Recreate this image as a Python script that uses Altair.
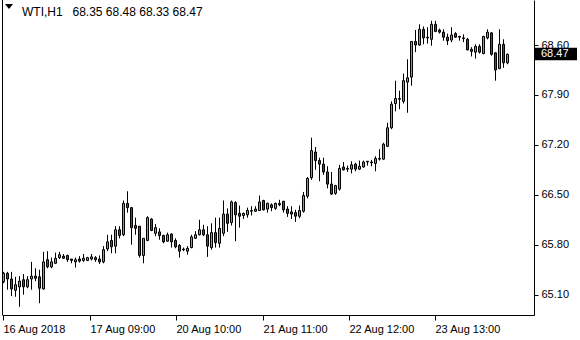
import altair as alt
import pandas as pd

# Candle OHLC values (WTI, H1)
open_ = [65.28, 65.40, 65.32, 65.16, 65.21, 65.31, 65.21, 65.32, 65.36, 65.35,
         65.18, 65.59, 65.49, 65.54, 65.62, 65.64, 65.65, 65.60, 65.56, 65.60,
         65.58, 65.58, 65.60, 65.62, 65.60, 65.56, 65.74, 65.86, 65.78, 66.01,
         65.94, 66.38, 66.32, 66.07, 66.06, 65.65, 65.86, 66.16, 65.96, 65.98,
         65.93, 65.85, 65.95, 65.86, 65.79, 65.74, 65.71, 65.76, 65.89, 65.94,
         66.01, 65.94, 65.76, 65.97, 65.82, 65.96, 66.23, 66.11, 66.39, 66.24,
         66.21, 66.22, 66.27, 66.27, 66.28, 66.42, 66.30, 66.36, 66.31, 66.38,
         66.41, 66.30, 66.26, 66.25, 66.20, 66.27, 66.48, 66.74, 67.10, 66.98,
         66.93, 66.82, 66.65, 66.52, 66.58, 66.89, 66.87, 66.86, 66.93, 66.86,
         66.89, 66.97, 66.95, 66.94, 67.00, 67.00, 67.18, 67.44, 67.78, 67.85,
         67.81, 68.08, 68.15, 68.65, 68.60, 68.82, 68.70, 68.68, 68.89, 68.81,
         68.78, 68.71, 68.67, 68.76, 68.72, 68.70, 68.68, 68.54, 68.50, 68.58,
         68.48, 68.70, 68.77, 68.49, 68.27, 68.61, 68.35]
high = [65.42, 65.42, 65.42, 65.35, 65.36, 65.39, 65.36, 65.56, 65.47, 65.45,
        65.70, 65.71, 65.62, 65.69, 65.70, 65.67, 65.66, 65.60, 65.62, 65.64,
        65.67, 65.63, 65.67, 65.64, 65.65, 65.78, 65.94, 65.94, 66.06, 66.06,
        66.42, 66.55, 66.33, 66.18, 66.06, 65.89, 66.20, 66.17, 66.09, 66.03,
        65.94, 65.97, 65.96, 65.89, 65.81, 65.76, 65.78, 65.94, 65.99, 66.15,
        66.08, 66.06, 66.10, 66.18, 66.18, 66.42, 66.31, 66.42, 66.41, 66.35,
        66.25, 66.32, 66.34, 66.34, 66.49, 66.43, 66.39, 66.38, 66.39, 66.43,
        66.41, 66.34, 66.34, 66.29, 66.35, 66.54, 66.75, 67.30, 67.17, 67.02,
        67.02, 66.90, 66.82, 66.64, 66.92, 66.96, 66.91, 66.97, 66.95, 66.98,
        66.98, 66.97, 66.99, 67.04, 67.14, 67.23, 67.51, 67.81, 68.10, 67.96,
        68.20, 68.40, 68.65, 68.81, 68.89, 68.86, 68.85, 68.94, 68.94, 68.83,
        68.82, 68.76, 68.85, 68.78, 68.73, 68.75, 68.70, 68.57, 68.61, 68.61,
        68.73, 68.82, 68.78, 68.50, 68.82, 68.68, 68.48]
low = [65.26, 65.17, 65.08, 65.07, 64.93, 65.10, 65.19, 65.17, 65.29, 64.98,
       65.17, 65.47, 65.47, 65.53, 65.60, 65.60, 65.56, 65.54, 65.48, 65.55,
       65.56, 65.57, 65.58, 65.56, 65.53, 65.54, 65.71, 65.68, 65.68, 65.89,
       65.92, 66.25, 65.80, 65.94, 65.62, 65.54, 65.85, 65.99, 65.92, 65.87,
       65.82, 65.84, 65.76, 65.75, 65.62, 65.71, 65.66, 65.75, 65.88, 65.93,
       65.92, 65.63, 65.73, 65.76, 65.76, 65.92, 65.98, 66.07, 65.85, 66.04,
       66.16, 66.18, 66.21, 66.26, 66.28, 66.28, 66.25, 66.27, 66.29, 66.34,
       66.25, 66.19, 66.16, 66.12, 66.17, 66.25, 66.45, 66.71, 66.85, 66.69,
       66.78, 66.59, 66.50, 66.50, 66.56, 66.84, 66.82, 66.80, 66.83, 66.85,
       66.88, 66.91, 66.90, 66.83, 66.98, 66.99, 67.17, 67.42, 67.67, 67.70,
       67.78, 67.65, 68.03, 68.50, 68.59, 68.61, 68.62, 68.59, 68.78, 68.76,
       68.66, 68.60, 68.64, 68.70, 68.66, 68.64, 68.53, 68.44, 68.41, 68.48,
       68.47, 68.68, 68.45, 68.10, 68.26, 68.28, 68.33]
close = [65.40, 65.32, 65.18, 65.24, 65.29, 65.21, 65.31, 65.36, 65.33, 65.19,
         65.56, 65.49, 65.56, 65.61, 65.66, 65.61, 65.59, 65.58, 65.59, 65.57,
         65.61, 65.62, 65.63, 65.59, 65.56, 65.73, 65.84, 65.77, 66.01, 65.93,
         66.38, 66.32, 66.04, 66.03, 65.65, 65.89, 66.18, 66.00, 66.04, 65.93,
         65.84, 65.94, 65.84, 65.77, 65.71, 65.73, 65.75, 65.91, 65.94, 66.01,
         65.94, 65.78, 65.97, 65.83, 66.03, 66.23, 66.10, 66.40, 66.22, 66.20,
         66.24, 66.28, 66.28, 66.30, 66.40, 66.29, 66.38, 66.32, 66.38, 66.36,
         66.29, 66.24, 66.23, 66.20, 66.28, 66.49, 66.73, 67.12, 66.98, 66.93,
         66.82, 66.65, 66.51, 66.63, 66.87, 66.85, 66.86, 66.92, 66.86, 66.90,
         66.96, 66.96, 66.96, 67.01, 67.01, 67.21, 67.44, 67.77, 67.85, 67.84,
         68.10, 68.14, 68.65, 68.60, 68.82, 68.70, 68.71, 68.89, 68.79, 68.78,
         68.71, 68.66, 68.74, 68.71, 68.71, 68.69, 68.53, 68.51, 68.58, 68.50,
         68.72, 68.78, 68.47, 68.25, 68.61, 68.35, 68.47]

# Time-axis labels and the bar positions where they sit
x_tick_pos = [0, 21.75, 43.25, 65, 86.5, 108]
x_tick_labels = ["16 Aug 2018", "17 Aug 09:00", "20 Aug 10:00",
                 "21 Aug 11:00", "22 Aug 12:00", "23 Aug 13:00"]
y_ticks = [65.10, 65.80, 66.50, 67.20, 67.90, 68.60]

symbol = "WTI,H1"
FONT = "Liberation Sans"
GREEN = "#22e022"
RED = "#dd1111"

n = len(close)
df = pd.DataFrame({
    "i": list(range(n)),
    "o": open_, "h": high, "l": low, "c": close,
    "dir": ["up" if c >= o else "down" for o, c in zip(open_, close)],
})

expr = "''"
for p, lab in reversed(list(zip(x_tick_pos, x_tick_labels))):
    expr = f"datum.value == {p} ? '{lab}' : ({expr})"

x_scale = alt.Scale(domain=[-0.25, 132.75], nice=False, zero=False, padding=0)
y_scale = alt.Scale(domain=[64.815, 69.231], nice=False, zero=False, padding=0)

X = alt.X("i:Q", scale=x_scale, title=None,
          axis=alt.Axis(values=x_tick_pos, labelExpr=expr, grid=False,
                        tickSize=5, labelAlign="left", labelBaseline="top",
                        labelPadding=3, labelFlush=False, labelOverlap=False,
                        domainColor="black", tickColor="black"))
Y = alt.Y("l:Q", scale=y_scale, title=None,
          axis=alt.Axis(orient="right", values=y_ticks, format=".2f", grid=False,
                        tickSize=4, labelPadding=3, labelBaseline="middle",
                        domainColor="black", tickColor="black"))

base = alt.Chart(df)
wicks = base.mark_rule(color="black", strokeWidth=1, xOffset=0.5).encode(
    x=X, y=Y, y2="h:Q")
bodies = base.mark_bar(size=2, stroke="black", strokeWidth=1, xOffset=0.5,
                       opacity=1).encode(
    x=alt.X("i:Q", scale=x_scale, title=None),
    y=alt.Y("o:Q", scale=y_scale, title=None),
    y2="c:Q",
    color=alt.Color("dir:N", scale=alt.Scale(domain=["up", "down"], range=[GREEN, RED]),
                    legend=None),
)

last = pd.DataFrame({"c": [close[-1]], "lab": [f"{close[-1]:.2f}"],
                     "head": [symbol],
                     "ohlc": [f"{open_[-1]:.2f} {high[-1]:.2f} {low[-1]:.2f} {close[-1]:.2f}"]})
lbase = alt.Chart(last)
price_box = lbase.mark_rect(color="black", yOffset=-6.5, y2Offset=6).encode(
    x=alt.value(533), x2=alt.value(575),
    y=alt.Y("c:Q", scale=y_scale, title=None), y2="c:Q")
price_txt = lbase.mark_text(color="white", align="left", baseline="middle",
                            font=FONT, fontSize=11).encode(
    x=alt.value(539), y=alt.Y("c:Q", scale=y_scale, title=None), text="lab:N")

head_txt = lbase.mark_text(color="black", align="left", baseline="alphabetic",
                           font=FONT, fontSize=12).encode(
    x=alt.value(20), y=alt.value(16), text="head:N")
ohlc_txt = lbase.mark_text(color="black", align="left", baseline="alphabetic",
                           font=FONT, fontSize=12).encode(
    x=alt.value(70.5), y=alt.value(16), text="ohlc:N")
tri = lbase.mark_point(shape="M-1,-0.6L1,-0.6L0,0.6Z", filled=True, color="black",
                       size=64, opacity=1).encode(x=alt.value(7), y=alt.value(6.5))
left_border = lbase.mark_rule(color="black", strokeWidth=1).encode(
    x=alt.value(0.5), y=alt.value(0), y2=alt.value(315))

chart = alt.layer(left_border, wicks, bodies, price_box, price_txt, head_txt,
                  ohlc_txt, tri).properties(
    width=532, height=315,
    autosize=alt.AutoSizeParams(type="none"),
    padding={"left": 2, "top": 0, "right": 46, "bottom": 25},
    background="white",
).configure_view(stroke=None).configure_axis(
    labelFont=FONT, labelFontSize=11, labelColor="black"
)

chart.save("out.html", embed_options={"renderer": "svg", "actions": False})
